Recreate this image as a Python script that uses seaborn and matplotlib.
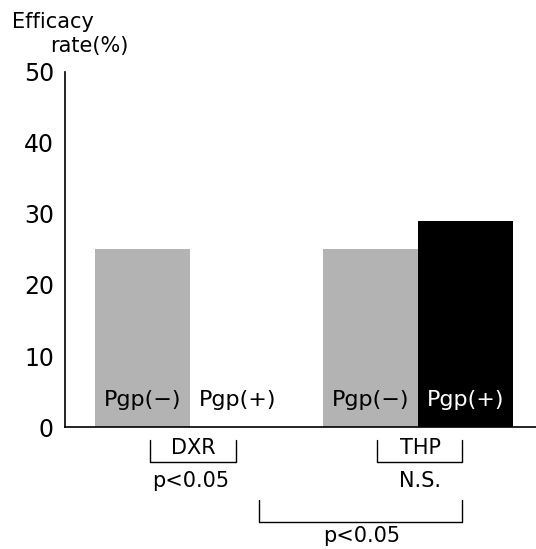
import matplotlib
matplotlib.use("Agg")
import matplotlib.pyplot as plt
import seaborn as sns

# data
drugs = ["DXR", "DXR", "THP", "THP"]
groups = ["Pgp(−)", "Pgp(+)", "Pgp(−)", "Pgp(+)"]
rates = [25, 0, 25, 29]
positions = [0, 1, 2.4, 3.4]
bar_colors = ["#b3b3b3", "#ffffff", "#b3b3b3", "#000000"]
label_colors = ["black", "black", "black", "white"]
yticks = [0, 10, 20, 30, 40, 50]

sns.set_theme(style="white")
plt.rcParams["font.family"] = ["DejaVu Sans"]
plt.rcParams["text.color"] = "black"

fig = plt.figure(figsize=(5.36, 5.49), dpi=100)
ax = fig.add_axes([0.1213, 0.2222, 0.8787, 0.6467])

keys = [f"b{i}" for i in range(len(rates))]
sns.barplot(x=positions, y=rates, hue=keys, palette=dict(zip(keys, bar_colors)),
            native_scale=True, width=1, legend=False, dodge=False, ax=ax,
            saturation=1, linewidth=0)

ax.set_xlim(-0.82, 4.14)
ax.set_ylim(0, 50)
ax.set_yticks(yticks)
ax.set_yticklabels([str(t) for t in yticks], fontsize=17)
ax.tick_params(axis="y", length=0, pad=8, labelcolor="black")
ax.set_xticks([])
ax.set_xlabel("")
sns.despine(ax=ax, top=True, right=True)
for side in ["left", "bottom"]:
    ax.spines[side].set_color("black")
    ax.spines[side].set_linewidth(1.2)

for p, g, c in zip(positions, groups, label_colors):
    ax.text(p, 3.8, g, ha="center", va="center", fontsize=16, color=c)

# y axis title
fig.text(12 / 536, 1 - 22 / 549, "Efficacy", fontsize=15, va="center", ha="left")
fig.text(50 / 536, 1 - 46 / 549, "rate(%)", fontsize=15, va="center", ha="left")

# brackets under the axis (data x, axes fraction y)
tr = ax.get_xaxis_transform()
def bracket(x0, x1, ytop, ybot):
    ax.plot([x0, x0, x1, x1], [ytop, ybot, ybot, ytop], color="black", lw=1.0,
            transform=tr, clip_on=False)

ax_h = 0.6467 * 549
def yfrac(py):
    return (427 - py) / ax_h

bracket(0.08, 0.985, yfrac(440), yfrac(462))
ax.text(0.53, yfrac(448), "DXR", transform=tr, ha="center", va="center", fontsize=15)
ax.text(0.5, yfrac(481), "p<0.05", transform=tr, ha="center", va="center", fontsize=15)

bracket(2.47, 3.36, yfrac(440), yfrac(462))
ax.text(2.92, yfrac(448), "THP", transform=tr, ha="center", va="center", fontsize=15)
ax.text(2.92, yfrac(481), "N.S.", transform=tr, ha="center", va="center", fontsize=15)

bracket(1.22, 3.36, yfrac(500), yfrac(522))
ax.text(2.3, yfrac(536), "p<0.05", transform=tr, ha="center", va="center", fontsize=15)

fig.savefig("out.png", dpi=100)
